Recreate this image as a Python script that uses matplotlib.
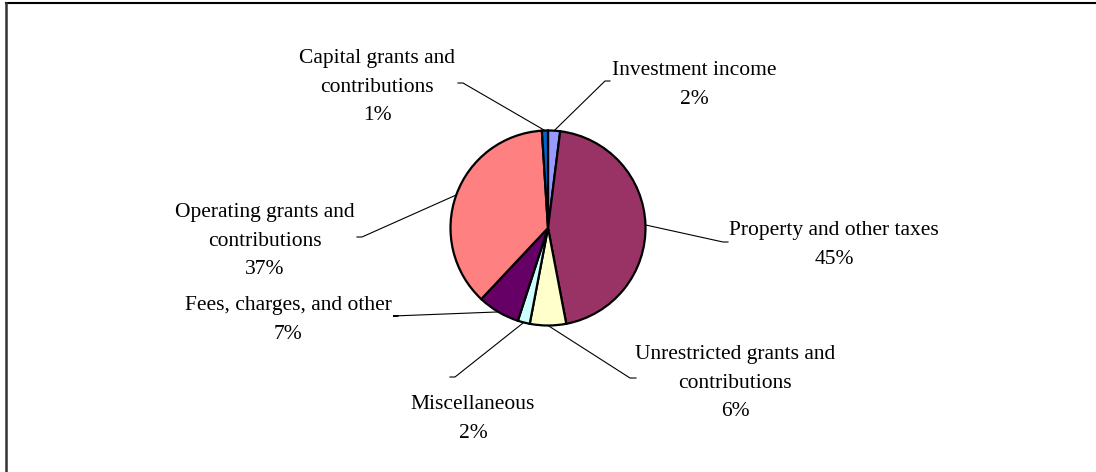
import numpy as np
import matplotlib
matplotlib.use('Agg')
import matplotlib.pyplot as plt
from matplotlib.lines import Line2D

# Revenue shares, clockwise from 12 o'clock (Excel order)
categories = ["Investment income", "Property and other taxes",
              "Unrestricted grants and\ncontributions", "Miscellaneous",
              "Fees, charges, and other", "Operating grants and\ncontributions",
              "Capital grants and\ncontributions"]
shares = [2, 45, 6, 2, 7, 37, 1]
colors = ['#9999FF', '#993366', '#FFFFCC', '#CCFFFF',
          '#660066', '#FF8080', '#0066CC']

W, H = 1096, 472
CX, CY, R = 548, 228, 97.5

# label block centre (pixel coords, y down) and where the leader line meets it
label_pos = [(694, 85), (834, 245), (735, 383), (473, 419),
             (288, 320), (265, 241), (377, 87)]
leader_end = [((610, 81), (605, 81)), ((728, 242), (723, 242)),
              ((636, 378), (630, 378)), ((450, 377), (455, 377)),
              ((398, 316), (393, 316)), ((357, 237), (362, 237)),
              ((458, 83), (463, 83))]

plt.rcParams['font.family'] = ['Liberation Serif', 'DejaVu Serif']

fig = plt.figure(figsize=(W / 100, H / 100), dpi=100)
ax = fig.add_axes([0, 0, 1, 1])


def fy(y):
    return H - y


wedges, _ = ax.pie(shares, colors=colors, startangle=90, counterclock=False,
                   center=(CX, fy(CY)), radius=R, frame=True,
                   wedgeprops=dict(edgecolor='black', linewidth=1.6))
ax.set_xlim(0, W)
ax.set_ylim(0, H)
ax.set_axis_off()

for w, cat, v, (lx, ly), (e0, e1) in zip(wedges, categories, shares,
                                          label_pos, leader_end):
    mid = np.deg2rad((w.theta1 + w.theta2) / 2)
    px = CX + R * np.cos(mid)
    py = fy(CY) + R * np.sin(mid)
    ax.plot([px, e1[0], e0[0]], [py, fy(e1[1]), fy(e0[1])],
            color='black', lw=0.8, solid_joinstyle='miter')
    ax.text(lx, fy(ly), f"{cat}\n{v}%", ha='center', va='center',
            multialignment='center', fontsize=15.5, linespacing=1.65)

# chart area border (only top and left edges are inside the image)
fig.add_artist(Line2D([6 / W, 1], [1 - 3 / H, 1 - 3 / H], color='black', lw=1.5))
fig.add_artist(Line2D([6 / W, 6 / W], [0, 1 - 3 / H], color='#333333', lw=1.8))

fig.savefig('out.png', dpi=100)
